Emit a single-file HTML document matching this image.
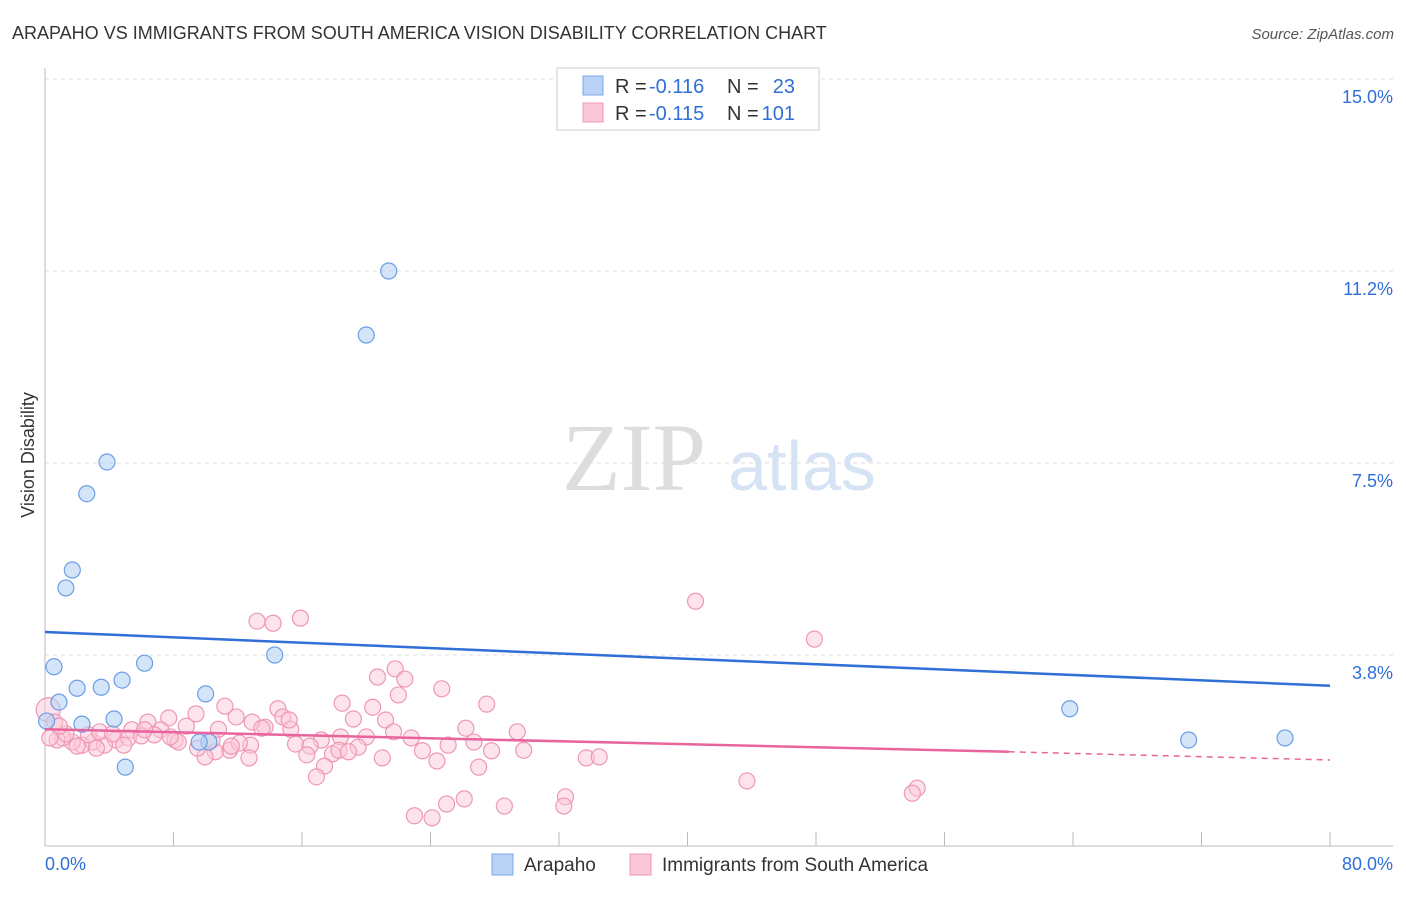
<!DOCTYPE html>
<html><head><meta charset="utf-8"><style>
body{margin:0;background:#fff;font-family:"Liberation Sans",sans-serif;}
svg text{font-family:"Liberation Sans",sans-serif;}
svg text.serif{font-family:"Liberation Serif",serif;}
</style></head><body>
<svg id="chart" width="1406" height="892" xmlns="http://www.w3.org/2000/svg">
<text x="12" y="39" font-size="18" fill="#333">ARAPAHO VS IMMIGRANTS FROM SOUTH AMERICA VISION DISABILITY CORRELATION CHART</text>
<text x="1394" y="39" font-size="15" fill="#555" text-anchor="end" font-style="italic">Source: ZipAtlas.com</text>
<g id="grid"></g>
<g><text class="serif" x="634" y="490" font-size="96" fill="#ddd" text-anchor="middle">ZIP</text><text x="802" y="490" font-size="70" fill="#d5e3f5" text-anchor="middle">atlas</text></g>
<text transform="translate(34,455) rotate(-90)" font-size="18" fill="#333" text-anchor="middle">Vision Disability</text>
<g id="axes"></g>
<g id="pinkpts"></g>
<g id="bluepts"></g>
<g id="trends"></g>
<g>
<rect x="557" y="68" width="262" height="62" fill="#fff" stroke="#ccc"/>
<rect x="583" y="76" width="20" height="19" fill="#b8d3f5" stroke="#7aa7e6"/>
<rect x="583" y="103" width="20" height="19" fill="#fbc8d8" stroke="#ef97b5"/>
<text x="615" y="93" font-size="20" fill="#333">R =</text><text x="649" y="93" font-size="20" fill="#2f6fd6">-0.116</text>
<text x="727" y="93" font-size="20" fill="#333">N =</text><text x="795" y="93" font-size="20" fill="#2f6fd6" text-anchor="end">23</text>
<text x="615" y="120" font-size="20" fill="#333">R =</text><text x="649" y="120" font-size="20" fill="#2f6fd6">-0.115</text>
<text x="727" y="120" font-size="20" fill="#333">N =</text><text x="795" y="120" font-size="20" fill="#2f6fd6" text-anchor="end">101</text>
</g>
<g>
<rect x="492" y="854" width="21" height="21" fill="#b8d3f5" stroke="#7aa7e6"/>
<text x="524" y="871" font-size="19" fill="#333">Arapaho</text>
<rect x="630" y="854" width="21" height="21" fill="#fbc8d8" stroke="#ef97b5"/>
<text x="662" y="871" font-size="19" fill="#333">Immigrants from South America</text>
</g>
</svg>
<script>
const yTicks=[3.75,7.5,11.25,15];
const yTickLabels=["3.8%","7.5%","11.2%","15.0%"];
const xTickLabels=["0.0%","80.0%"];
const arapahoX=[21.4,20.0,3.86,2.6,1.7,1.3,14.3,6.2,0.56,4.8,2.0,3.5,10.0,0.87,63.8,0.1,2.3,4.3,10.2,9.6,5.0,71.2,77.2];
const arapahoY=[11.25,10.0,7.52,6.9,5.41,5.06,3.75,3.59,3.52,3.26,3.1,3.12,2.99,2.83,2.7,2.46,2.4,2.5,2.05,2.05,1.56,2.09,2.13];
const immX=[40.5,47.9,15.9,13.2,14.2,21.8,20.7,22.4,24.7,22.0,18.5,27.5,20.4,11.2,14.5,19.2,21.2,9.4,7.7,11.9,14.8,12.9,13.7,15.3,6.4,8.8,5.4,7.2,26.2,29.4,22.8,21.7,18.4,20.0,17.2,26.7,25.1,15.6,16.5,23.5,27.8,29.8,19.5,21.0,24.4,16.3,17.9,18.3,18.9,17.4,16.9,27.0,33.7,34.5,43.7,54.3,54.0,26.1,25.0,28.6,32.4,32.3,23.0,24.1,12.8,11.5,10.6,9.96,12.7,10.4,8.1,4.4,5.2,6.0,6.8,3.0,3.7,2.3,1.7,1.1,0.75,0.3,0.2,0.6,1.3,2.7,3.4,4.2,4.9,2.0,8.3,9.5,12.1,10.8,13.5,6.2,7.8,15.2,11.6,0.9,3.2];
const immY=[4.8,4.06,4.47,4.41,4.37,3.48,3.32,3.28,3.09,2.97,2.81,2.79,2.73,2.75,2.70,2.50,2.48,2.6,2.52,2.54,2.54,2.44,2.34,2.30,2.44,2.36,2.29,2.29,2.32,2.25,2.13,2.25,2.15,2.15,2.09,2.05,1.99,2.01,1.97,1.88,1.88,1.89,1.95,1.74,1.68,1.80,1.82,1.89,1.86,1.58,1.37,1.56,1.74,1.76,1.29,1.15,1.05,0.94,0.84,0.80,0.98,0.80,0.61,0.57,1.99,1.89,1.86,1.76,1.74,2.09,2.09,2.09,2.13,2.17,2.19,2.05,1.99,1.99,2.05,2.13,2.09,2.13,2.68,2.44,2.21,2.19,2.25,2.21,1.99,1.97,2.05,1.93,2.03,2.30,2.32,2.29,2.15,2.48,1.97,2.36,1.93];
const blueTrend=[4.2,3.15];
const pinkTrend=[2.30,1.86,1.70];
const NS="http://www.w3.org/2000/svg";
const X=v=>45+v*16.0625, Y=v=>847-v*51.2;
function mk(t,a,p){const e=document.createElementNS(NS,t);for(const k in a)e.setAttribute(k,a[k]);document.getElementById(p).appendChild(e);return e;}
yTicks.forEach((t,i)=>{
 const g=mk('line',{x1:45,x2:1393,y1:Y(t),y2:Y(t),stroke:'#ddd','stroke-dasharray':'4,4'},'grid');
 
 
 const l=mk('text',{x:1393,y:Y(t)+24,'font-size':18,fill:'#2f6fd6','text-anchor':'end'},'axes');l.textContent=yTickLabels[i];
 
 
});
const topLine=mk('line',{x1:45,x2:1393,y1:79,y2:79,stroke:'#ddd','stroke-dasharray':'4,4'},'grid');


const ya=mk('line',{x1:45,x2:45,y1:68,y2:846,stroke:'#bbb'},'axes');


const xa=mk('line',{x1:45,x2:1393,y1:846,y2:846,stroke:'#bbb'},'axes');


for(let i=0;i<=10;i++){const t=mk('line',{x1:X(i*8),x2:X(i*8),y1:832,y2:846,stroke:'#bbb'},'axes');
 
 }
[[0,'start',45],[1,'end',1393]].forEach(([i,a,x])=>{const t=mk('text',{x:x,y:870,'font-size':18,fill:'#2f6fd6','text-anchor':a},'axes');t.textContent=xTickLabels[i];
 
 });
immX.forEach((v,i)=>{const c=mk('circle',{cx:X(v),cy:Y(immY[i]),r:i==82?12:8,fill:'#fbc8d8','fill-opacity':0.5,stroke:'#ef97b5','stroke-width':1.2},'pinkpts');
 
 });
arapahoX.forEach((v,i)=>{const c=mk('circle',{cx:X(v),cy:Y(arapahoY[i]),r:8,fill:'#b8d3f5','fill-opacity':0.6,stroke:'#6a9ee6','stroke-width':1.2},'bluepts');
 
 });
const bl=mk('line',{x1:X(0),x2:X(80),y1:Y(blueTrend[0]),y2:Y(blueTrend[1]),stroke:'#2f6fd6','stroke-width':2.5},'trends');


const pl=mk('line',{x1:X(0),x2:X(60),y1:Y(pinkTrend[0]),y2:Y(pinkTrend[1]),stroke:'#e8649a','stroke-width':2.5},'trends');


const pd=mk('line',{x1:X(60),x2:X(80),y1:Y(pinkTrend[1]),y2:Y(pinkTrend[2]),stroke:'#e8649a','stroke-width':1.5,'stroke-dasharray':'6,5'},'trends');


</script>
</body></html>
